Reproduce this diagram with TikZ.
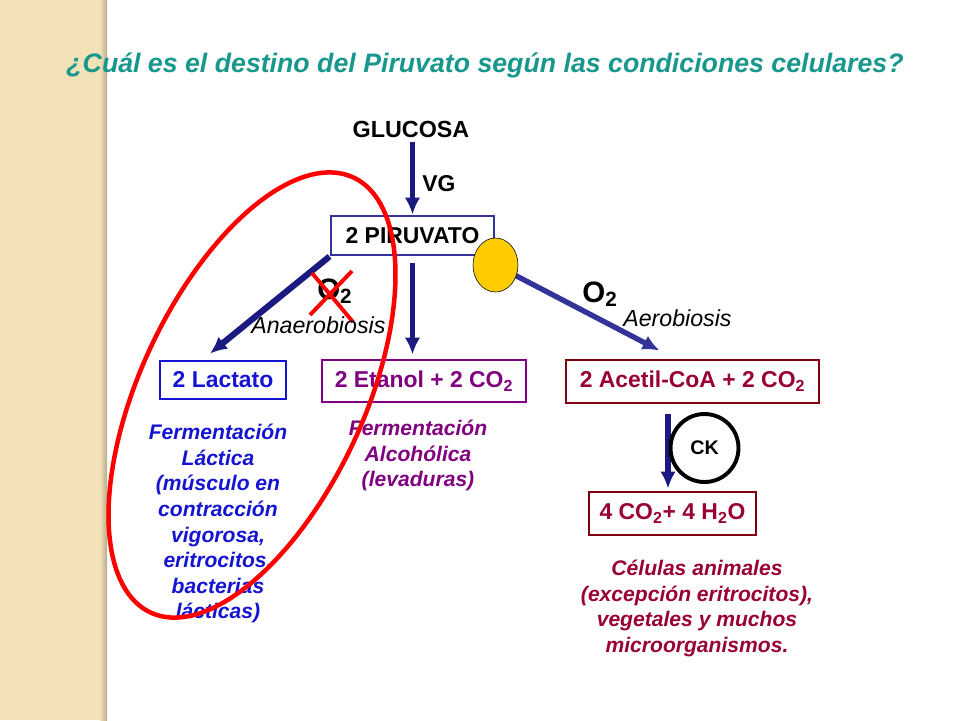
\documentclass[tikz,border=0pt]{standalone}
\usepackage{fontspec}
\setmainfont{Liberation Sans}
\usetikzlibrary{arrows.meta,shapes.geometric}

\definecolor{titleteal}{RGB}{24,152,140}
\definecolor{navy}{RGB}{26,26,128}
\definecolor{piruborder}{RGB}{51,51,153}
\definecolor{lactblue}{RGB}{20,20,210}
\definecolor{etanpurple}{RGB}{128,0,128}
\definecolor{acetborder}{RGB}{128,0,16}
\definecolor{acettext}{RGB}{153,0,51}
\definecolor{stripe}{RGB}{243,226,184}
\definecolor{gold}{RGB}{255,204,0}

\begin{document}
\begin{tikzpicture}[x = 0.25mm, y = -0.25mm, > = {Latex[length=12pt,width=11pt]},
	box/.style = {draw, line width = 2.1pt, inner sep = 0pt, font = \fontsize{16.3}{19}\selectfont\bfseries},
	flow/.style = {->, line width = 3.8pt, navy},
	note/.style = {anchor = north, align = center, inner sep = 0pt, font = \fontsize{15}{18.2}\selectfont\bfseries\itshape},
	big/.style = {anchor = base west, inner sep = 0pt, font = \fontsize{21}{25}\selectfont\bfseries},
	cond/.style = {anchor = base west, inner sep = 0pt, font = \fontsize{16.5}{20}\selectfont\itshape}]

% Ellipse tilt and half axes

\def\T{65}
\def\A{240}
\def\B{112}

\useasboundingbox (0, 0) rectangle (960, 720);

% The side stripe

\fill [white] (0, 0) rectangle (960, 720);
\fill [stripe] (0, 0) rectangle (101, 720);
\shade [left color = stripe, right color = stripe!75!black] (100, 0) rectangle (107, 720);

% Title

\node (title) [anchor = base, titleteal, font = \fontsize{19}{23}\selectfont\bfseries\itshape] at (485, 72) {¿Cuál es el destino del Piruvato según las condiciones celulares?};

% Glucose and pyruvate

\node (gluc) [anchor = base, font = \fontsize{16.6}{19}\selectfont\bfseries] at (411, 137) {GLUCOSA};
\node (piru) [box, piruborder, text = black, minimum width = 40.75mm, minimum height = 9.75mm] at (412.5, 235.5) {2 PIRUVATO};

\draw [flow] (gluc.south -| piru.north) -- (piru.north);
\node (vg) [anchor = base west, inner sep = 0pt, font = \fontsize{16.3}{19}\selectfont\bfseries] at (422, 191) {VG};

% Products

\node (lact) [box, lactblue, minimum width = 31.5mm, minimum height = 9.5mm] at (223, 380) {2 Lactato};
\node (etan) [box, etanpurple, minimum width = 51mm, minimum height = 10.5mm] at (424, 381) {2 Etanol + 2 CO\textsubscript{2}};
\node (acet) [box, acetborder, text = acettext, minimum width = 63.25mm, minimum height = 10.75mm] at (692.5, 381.5) {2 Acetil-CoA + 2 CO\textsubscript{2}};
\node (h2o) [box, acetborder, text = acettext, minimum width = 41.75mm, minimum height = 10.75mm] at (672.5, 513.5) {4 CO\textsubscript{2}+ 4 H\textsubscript{2}O};

% Branches

\path (piru.south |- etan.north) coordinate (etan-top);

\draw [flow, line width = 4.4pt] (piru.south west) -- ([shift = {(-13, -6)}] lact.north);
\draw [flow] ([shift = {(0, 7)}] piru.south) -- ([shift = {(0, -4)}] etan-top);
\draw [flow, piruborder] (495.5, 265) coordinate (yel-c) -- ([shift = {(-33, -8)}] acet.north);

\node (yel) [ellipse, draw, fill = gold, minimum width = 11.25mm, minimum height = 13.5mm, inner sep = 0pt] at (yel-c) {};

% Oxygen labels

\node (o2-no) [big] at (317, 299) {O\textsubscript{2}};
\draw [red, line width = 2.8pt] ([shift = {(-5, -26)}] o2-no.base west) -- ([shift = {(36, 23)}] o2-no.base west);
\draw [red, line width = 2.8pt] ([shift = {(35, -28)}] o2-no.base west) -- ([shift = {(-7, 16)}] o2-no.base west);
\node (anaer) [cond] at (251, 333) {Anaerobiosis};

\node (o2-yes) [big] at (582, 302) {O\textsubscript{2}};
\node (aer) [cond] at (623, 326) {Aerobiosis};

% Krebs cycle

\draw [flow] ([shift = {(-24.5, 10)}] acet.south) -- ([shift = {(-4.5, -2)}] h2o.north);
\node (ck) [circle, draw, line width = 2.8pt, minimum size = 17mm, inner sep = 0pt, font = \fontsize{14}{17}\selectfont\bfseries] at (704.5, 448) {CK};

% Notes

\node (lact-note) [note, lactblue] at (218, 424) {Fermentación\\Láctica\\(músculo en\\contracción\\vigorosa,\\eritrocitos,\\bacterias\\lácticas)};
\node (etan-note) [note, etanpurple] at (418, 420) {Fermentación\\Alcohólica\\(levaduras)};
\node (cel-note) [note, acettext] at (697, 560) {Células animales\\(excepción eritrocitos),\\vegetales y muchos\\microorganismos.};

% The red ellipse

\coordinate (ring-c) at (252, 395);
\draw [red, line width = 3.2pt] plot [domain = 0 : 360, samples = 120, smooth cycle]
	({252 + \A * cos(\x) * cos(\T) - \B * sin(\x) * sin(\T)}, {395 - \A * cos(\x) * sin(\T) - \B * sin(\x) * cos(\T)});

\end{tikzpicture}
\end{document}
